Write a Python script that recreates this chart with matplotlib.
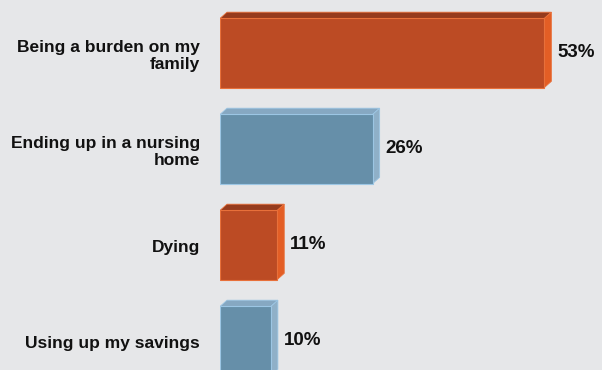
import matplotlib.pyplot as plt
from matplotlib.patches import Polygon, Rectangle

labels = ['Being a burden on my\nfamily', 'Ending up in a nursing\nhome', 'Dying', 'Using up my savings']
values = [53, 26, 11, 10]
styles = ['orange', 'blue', 'orange', 'blue']

palette = {
    'orange': dict(front='#BC4B24', top='#963B1D', side='#E35E25', edge='#E8703A'),
    'blue': dict(front='#668FA9', top='#86A8C2', side='#8FB0C8', edge='#9CC6E4'),
}

bg = '#E6E7E9'
base = 2          # axis minimum, bars grow from here
px = 6.36         # pixels per percent
bar_h = 0.72
depth_x = 7 / px  # side face width in data units
depth_y = 0.065   # top face height in data units

plt.rcParams['font.family'] = ['Liberation Sans', 'DejaVu Sans']

fig = plt.figure(figsize=(6.02, 3.70), dpi=100, facecolor=bg)
ax = fig.add_axes([220 / 602, 0, 382 / 602, 1])
ax.set_facecolor(bg)
ax.set_xlim(base, base + 382 / px)
ax.set_ylim(-0.552 + 370 / 96, -0.552)

for i, (v, s) in enumerate(zip(values, styles)):
    c = palette[s]
    top = i - bar_h / 2
    bot = i + bar_h / 2
    # top face
    ax.add_patch(Polygon([(base, top), (base + depth_x, top - depth_y), (v + depth_x, top - depth_y), (v, top)],
                         closed=True, facecolor=c['top'], edgecolor=c['edge'], linewidth=0.6))
    # side face
    ax.add_patch(Polygon([(v, top), (v + depth_x, top - depth_y), (v + depth_x, bot - depth_y), (v, bot)],
                         closed=True, facecolor=c['side'], edgecolor=c['edge'], linewidth=0.6))
    # front face
    ax.add_patch(Rectangle((base, top), v - base, bar_h, facecolor=c['front'], edgecolor=c['edge'], linewidth=0.8))
    ax.text(v + depth_x + 6 / px, i, f'{v}%', ha='left', va='center',
            fontsize=13.5, fontweight='bold', color='#111111')
    ax.text(base - 20 / px, i + 0.03, labels[i], ha='right', va='center', fontsize=12.5,
            fontweight='bold', color='#111111', linespacing=1.2, clip_on=False)

ax.axis('off')
fig.savefig('out.png', dpi=100, facecolor=bg)
